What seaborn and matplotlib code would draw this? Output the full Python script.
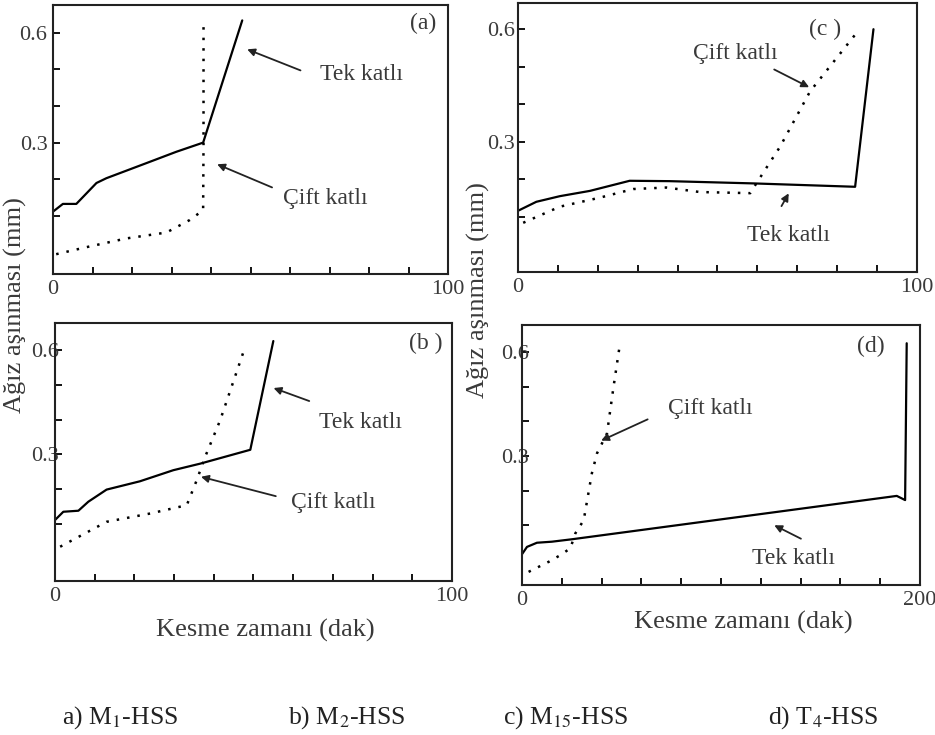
import seaborn as sns
import matplotlib.pyplot as plt
import pandas as pd

# Tool wear (mm) vs cutting time (min), single vs double layer coating
# (a) M1-HSS
a_tek_x = [0, 2.5, 5.9, 11, 13.5, 23.6, 31.2, 38, 47.9]
a_tek_y = [0.112, 0.133, 0.133, 0.19, 0.203, 0.244, 0.275, 0.30, 0.633]
a_cift_x = [0.8, 8.4, 18.6, 28.7, 34.6, 38, 38.1, 38.1]
a_cift_y = [-0.004, 0.015, 0.039, 0.055, 0.089, 0.116, 0.30, 0.627]

# (b) M2-HSS
b_tek_x = [0, 2.1, 5.9, 8.4, 13, 21.4, 29.8, 36.6, 49.2, 55]
b_tek_y = [0.110, 0.134, 0.137, 0.163, 0.198, 0.222, 0.254, 0.273, 0.313, 0.627]
b_cift_x = [1.3, 13, 24, 33.2, 35.7, 37.8, 41.6, 47.9]
b_cift_y = [0.033, 0.105, 0.129, 0.153, 0.225, 0.292, 0.398, 0.61]

# (c) M15-HSS
c_tek_x = [0, 4.6, 10.5, 18, 28, 38, 59, 84.5, 89.1]
c_tek_y = [0.116, 0.14, 0.155, 0.169, 0.196, 0.195, 0.189, 0.18, 0.60]
c_cift_x = [1.3, 10.5, 20.5, 28.9, 37.2, 45.6, 58.2, 59.8, 65.7, 73.2, 85]
c_cift_y = [0.084, 0.127, 0.151, 0.174, 0.178, 0.166, 0.163, 0.19, 0.287, 0.434, 0.592]

# (d) T4-HSS
d_tek_x = [0, 2.5, 7.5, 15, 25.1, 188.3, 192.5, 193.3]
d_tek_y = [0.017, 0.038, 0.05, 0.053, 0.06, 0.185, 0.173, 0.625]
d_cift_x = [3.3, 13.4, 19.2, 24.3, 26.8, 31, 35.1, 37.7, 42.7, 46, 49]
d_cift_y = [-0.034, -0.005, 0.014, 0.034, 0.077, 0.115, 0.25, 0.308, 0.365, 0.5, 0.615]

captions = ["a) M$_1$-HSS", "b) M$_2$-HSS", "c) M$_{15}$-HSS", "d) T$_4$-HSS"]

sns.set_style("ticks")
plt.rcParams['font.family'] = ['Liberation Serif', 'DejaVu Serif']
plt.rcParams['mathtext.fontset'] = 'stix'

txt = '#3a3a3a'
fig = plt.figure(figsize=(9.35, 7.35), dpi=100)

panels = [
    dict(rect=[0.0567, 0.6272, 0.4225, 0.366], xmax=100, ylim=(-0.058, 0.675), ypad=4,
         tek=(a_tek_x, a_tek_y), cift=(a_cift_x, a_cift_y), tag='(a)', tag_xy=(93.8, 0.625),
         tek_txt=(78, 0.485), tek_arr=((63.3, 0.494), (48.5, 0.557)),
         cift_txt=(69, 0.148), cift_arr=((56.1, 0.175), (40.9, 0.244))),
    dict(rect=[0.554, 0.630, 0.4267, 0.366], xmax=100, ylim=(-0.047, 0.67), ypad=2,
         tek=(c_tek_x, c_tek_y), cift=(c_cift_x, c_cift_y), tag='(c )', tag_xy=(77, 0.6),
         tek_txt=(67.8, 0.05), tek_arr=((65.7, 0.122), (68.2, 0.169)),
         cift_txt=(54.5, 0.536), cift_arr=((63.6, 0.496), (73.6, 0.442))),
    dict(rect=[0.0588, 0.2095, 0.4246, 0.351], xmax=100, ylim=(-0.066, 0.679), ypad=-3,
         tek=(b_tek_x, b_tek_y), cift=(b_cift_x, b_cift_y), tag='(b )', tag_xy=(93.3, 0.62),
         tek_txt=(76.9, 0.393), tek_arr=((64.7, 0.451), (54.4, 0.494)),
         cift_txt=(70.2, 0.162), cift_arr=((56.3, 0.177), (36.1, 0.237))),
    dict(rect=[0.5583, 0.204, 0.4257, 0.354], xmax=200, ylim=(-0.072, 0.678), ypad=-5,
         tek=(d_tek_x, d_tek_y), cift=(d_cift_x, d_cift_y), tag='(d)', tag_xy=(175.5, 0.615),
         tek_txt=(136.4, 0.005), tek_arr=((141.4, 0.058), (125.5, 0.104)),
         cift_txt=(94.6, 0.437), cift_arr=((64.4, 0.409), (38.5, 0.341))),
]

for p in panels:
    ax = fig.add_axes(p['rect'])
    tek = pd.DataFrame({'x': p['tek'][0], 'y': p['tek'][1]})
    cift = pd.DataFrame({'x': p['cift'][0], 'y': p['cift'][1]})
    sns.lineplot(data=tek, x='x', y='y', sort=False, estimator=None, color='black',
                 lw=1.6, ax=ax)
    sns.lineplot(data=cift, x='x', y='y', sort=False, estimator=None, color='black',
                 lw=1.8, linestyle=(0, (1, 3.2)), ax=ax)
    xmax = p['xmax']
    ax.set_xlim(0, xmax)
    ax.set_ylim(*p['ylim'])
    ax.set_xticks([xmax * k / 10 for k in range(11)])
    ax.set_xticklabels(['0'] + [''] * 9 + [str(xmax)])
    ax.set_yticks([0.1, 0.2, 0.3, 0.4, 0.5, 0.6])
    ax.set_yticklabels(['', '', '0.3', '', '', '0.6'])
    ax.tick_params(direction='in', length=5, width=1.3, labelsize=16, colors='black',
                   labelcolor=txt, pad=4)
    ax.tick_params(axis='y', pad=p['ypad'])
    for s in ax.spines.values():
        s.set_linewidth(1.5)
        s.set_color('#222222')
    ax.set_xlabel('')
    ax.set_ylabel('')
    ax.text(*p['tag_xy'], p['tag'], fontsize=17, color=txt, ha='center', va='center')
    ax.annotate('', xy=p['tek_arr'][1], xytext=p['tek_arr'][0],
                arrowprops=dict(arrowstyle='-|>', color='#222222', lw=1.3, mutation_scale=11))
    ax.annotate('', xy=p['cift_arr'][1], xytext=p['cift_arr'][0],
                arrowprops=dict(arrowstyle='-|>', color='#222222', lw=1.3, mutation_scale=11))
    ax.text(*p['tek_txt'], 'Tek katlı', fontsize=17, color=txt, ha='center', va='center')
    ax.text(*p['cift_txt'], 'Çift katlı', fontsize=17, color=txt, ha='center', va='center')

# axis titles
fig.text(15 / 935, 1 - 305 / 735, 'Ağız aşınması (mm)', rotation=90, fontsize=19,
         color=txt, ha='center', va='center')
fig.text(478 / 935, 1 - 290 / 735, 'Ağız aşınması (mm)', rotation=90, fontsize=19,
         color=txt, ha='center', va='center')
fig.text(265 / 935, 1 - 630 / 735, 'Kesme zamanı (dak)', fontsize=19, color=txt,
         ha='center', va='center')
fig.text(743 / 935, 1 - 622 / 735, 'Kesme zamanı (dak)', fontsize=19, color=txt,
         ha='center', va='center')

# captions
cap_x = [120, 347, 566, 823]
for cx, cap in zip(cap_x, captions):
    fig.text(cx / 935, 1 - 718 / 735, cap, fontsize=18.5, color='#222222',
             ha='center', va='center')

fig.savefig('out.png', dpi=100)
